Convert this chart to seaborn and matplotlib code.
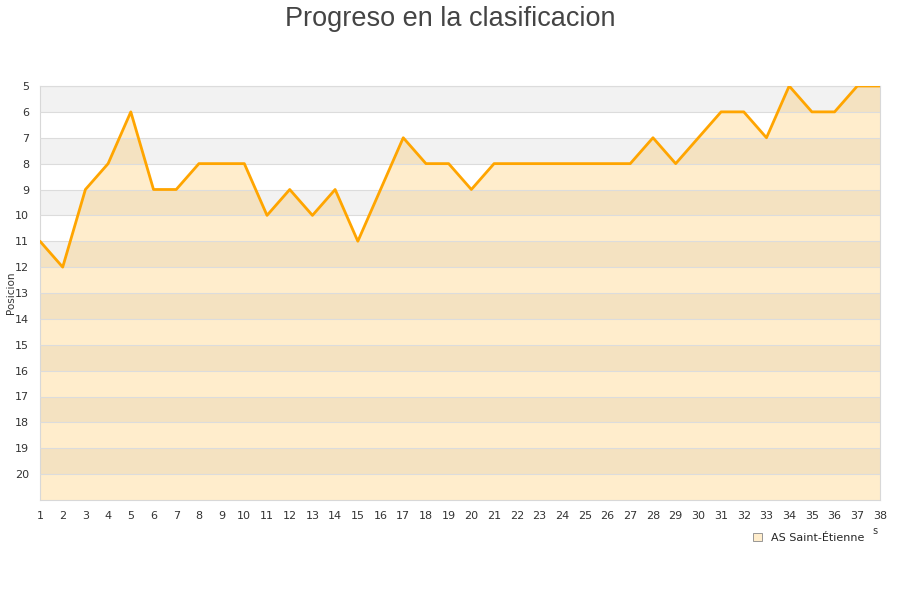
import pandas as pd
import seaborn as sns
import matplotlib.pyplot as plt
from matplotlib.patches import Patch

# Matchday and league position
jornadas = list(range(1, 39))
posiciones = [11, 12, 9, 8, 6, 9, 9, 8, 8, 8,
              10, 9, 10, 9, 11, 9, 7, 8, 8, 9,
              8, 8, 8, 8, 8, 8, 8, 7, 8, 7,
              6, 6, 7, 5, 6, 6, 5, 5]
equipo = 'AS Saint-Étienne'
y_ticks = list(range(5, 21))

df = pd.DataFrame({'Jornada': jornadas, 'Posicion': posiciones})

sns.set_style("white")
plt.rcParams['font.family'] = ['DejaVu Sans']

fig = plt.figure(figsize=(9, 6), dpi=100)
ax = fig.add_axes([40 / 900, 1 - 500 / 600, 840 / 900, 414 / 600])

# alternating background bands
for y in range(5, 21, 2):
    ax.axhspan(y, y + 1, color='#f2f2f2', lw=0, zorder=0)

ax.fill_between(df['Jornada'], df['Posicion'], 21, color='orange', alpha=0.2, lw=0, zorder=1)
sns.lineplot(data=df, x='Jornada', y='Posicion', color='#ffa500', lw=2.0, ax=ax, zorder=3)

ax.set_xlim(1, 38)
ax.set_ylim(21, 5)
ax.set_xticks(jornadas)
ax.set_yticks(y_ticks)
ax.grid(axis='y', color='#dcdcdc', lw=0.8, zorder=2)
ax.set_axisbelow(False)
ax.tick_params(axis='both', length=0, labelsize=8, colors='#333333')
ax.tick_params(axis='x', pad=8)
ax.tick_params(axis='y', pad=8)
for s in ax.spines.values():
    s.set_color('#d8d8d8')
    s.set_linewidth(0.8)

ax.set_xlabel('')
ax.set_ylabel('Posicion', fontsize=7.5, color='#333333')
ax.yaxis.set_label_coords(-24 / 840, 0.5)

fig.text(0.5, 0.99, 'Progreso en la clasificacion', ha='center', va='top',
         fontsize=19.5, color='#444444', family=['Liberation Sans', 'DejaVu Sans'])

# truncated axis caption fragment
fig.text(875 / 900, 1 - 531 / 600, 's', ha='center', va='center', fontsize=7, color='#333333')

handle = Patch(facecolor='#ffedcc', edgecolor='#888888', lw=0.6)
fig.legend([handle], [equipo], loc='center left', bbox_to_anchor=(753 / 900, 1 - 538 / 600),
           frameon=False, fontsize=8, handlelength=0.8, handleheight=0.8, handletextpad=0.8,
           borderpad=0, borderaxespad=0)

plt.savefig('out.png', dpi=100)
